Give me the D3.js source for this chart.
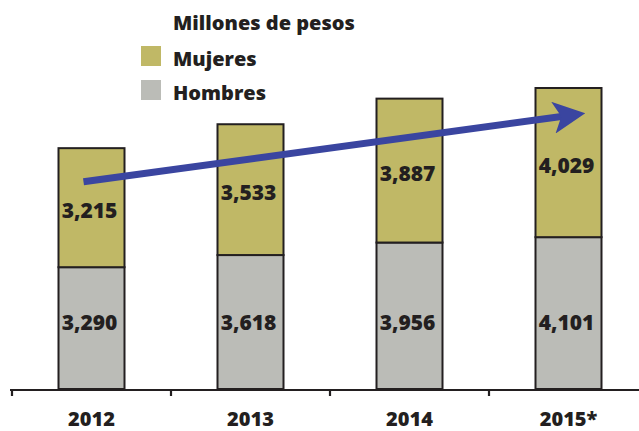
<!DOCTYPE html>
<html>
<head>
<meta charset="utf-8">
<script src="https://cdn.jsdelivr.net/npm/d3@7/dist/d3.min.js"></script>
<style>
  html, body { margin: 0; padding: 0; background: #fff; }
  svg { display: block; font-family: "Open Sans", "Noto Sans", sans-serif; }
</style>
</head>
<body>
<svg id="chart" width="639" height="431"></svg>
<script>
// Years and amounts (millones de pesos)
const years = ["2012", "2013", "2014", "2015*"];
const hombres = [3290, 3618, 3956, 4101];
const mujeres = [3215, 3533, 3887, 4029];
const seriesNames = ["Mujeres", "Hombres"];
const seriesColors = ["#c0b866", "#bbbcb7"];
const legendTitle = "Millones de pesos";
// Trend arrow from the first to the last year, in value units
const trendStart = 5600;
const trendEnd = 7400;
// Common level for the lower segment labels
const lowerLabelLevel = 1800;

const svg = d3.select("#chart");
const ink = "#231f20";
const weight = 800;

const x = d3.scaleBand().domain(years).range([12, 648]).paddingInner(0).paddingOuter(0);
const y = d3.scaleLinear().domain([0, 8130]).range([389, 88]);
const barW = 66;

// Stacked bars
const data = years.map((yr, i) => ({ yr, h: hombres[i], m: mujeres[i] }));
const g = svg.append("g");
const cx = d => x(d.yr) + x.bandwidth() / 2;

g.selectAll("rect.h").data(data).join("rect")
  .attr("class", "h")
  .attr("x", d => cx(d) - barW / 2)
  .attr("y", d => y(d.h))
  .attr("width", barW)
  .attr("height", d => y(0) - y(d.h))
  .attr("fill", seriesColors[1])
  .attr("stroke", ink).attr("stroke-width", 2);

g.selectAll("rect.m").data(data).join("rect")
  .attr("class", "m")
  .attr("x", d => cx(d) - barW / 2)
  .attr("y", d => y(d.h + d.m))
  .attr("width", barW)
  .attr("height", d => y(d.h) - y(d.h + d.m))
  .attr("fill", seriesColors[0])
  .attr("stroke", ink).attr("stroke-width", 2);

const fmt = d3.format(",");
g.selectAll("text.h").data(data).join("text")
  .attr("x", d => cx(d) - 2)
  .attr("y", y(lowerLabelLevel) + 8)
  .attr("text-anchor", "middle")
  .attr("font-size", 21).attr("font-weight", weight).attr("fill", ink)
  .text(d => fmt(d.h));

g.selectAll("text.m").data(data).join("text")
  .attr("x", d => cx(d) - 2)
  .attr("y", d => (y(d.h) + y(d.h + d.m)) / 2 + 10)
  .attr("text-anchor", "middle")
  .attr("font-size", 21).attr("font-weight", weight).attr("fill", ink)
  .text(d => fmt(d.m));

// Horizontal axis with boundary ticks
const axisY = 390;
svg.append("line")
  .attr("x1", 10).attr("x2", 639).attr("y1", axisY).attr("y2", axisY)
  .attr("stroke", ink).attr("stroke-width", 2.2);
svg.selectAll("line.tick").data(years).join("line")
  .attr("class", "tick")
  .attr("x1", d => x(d)).attr("x2", d => x(d))
  .attr("y1", axisY).attr("y2", axisY + 6)
  .attr("stroke", ink).attr("stroke-width", 2.2);
svg.selectAll("text.year").data(years).join("text")
  .attr("class", "year")
  .attr("x", d => x(d) + x.bandwidth() / 2)
  .attr("y", 426)
  .attr("text-anchor", "middle")
  .attr("font-size", 20).attr("font-weight", weight).attr("fill", ink)
  .text(d => d);

// Trend arrow
const defs = svg.append("defs");
defs.append("marker")
  .attr("id", "head")
  .attr("viewBox", "0 0 10 10")
  .attr("refX", 6).attr("refY", 5)
  .attr("markerWidth", 4.6).attr("markerHeight", 4.6)
  .attr("markerUnits", "strokeWidth")
  .attr("orient", "auto")
  .append("path")
  .attr("d", "M0,0 L10,5 L0,10 L2.5,5 Z")
  .attr("fill", "#3a45a0");

const x0 = x(years[0]) + x.bandwidth() / 2 - 8;
const x1 = x(years[years.length - 1]) + x.bandwidth() / 2 + 4;
svg.append("line")
  .attr("x1", x0).attr("y1", y(trendStart))
  .attr("x2", x1).attr("y2", y(trendEnd))
  .attr("stroke", "#3a45a0").attr("stroke-width", 7)
  .attr("marker-end", "url(#head)");

// Legend
const lg = svg.append("g");
lg.append("text")
  .attr("x", 173).attr("y", 30)
  .attr("font-size", 20).attr("font-weight", weight).attr("fill", ink)
  .text(legendTitle);
seriesNames.forEach((name, i) => {
  lg.append("rect")
    .attr("x", 141).attr("y", 46 + i * 34)
    .attr("width", 20).attr("height", 20)
    .attr("fill", seriesColors[i]);
  lg.append("text")
    .attr("x", 173).attr("y", 66 + i * 34)
    .attr("font-size", 20).attr("font-weight", weight).attr("fill", ink)
    .text(name);
});
</script>
</body>
</html>
